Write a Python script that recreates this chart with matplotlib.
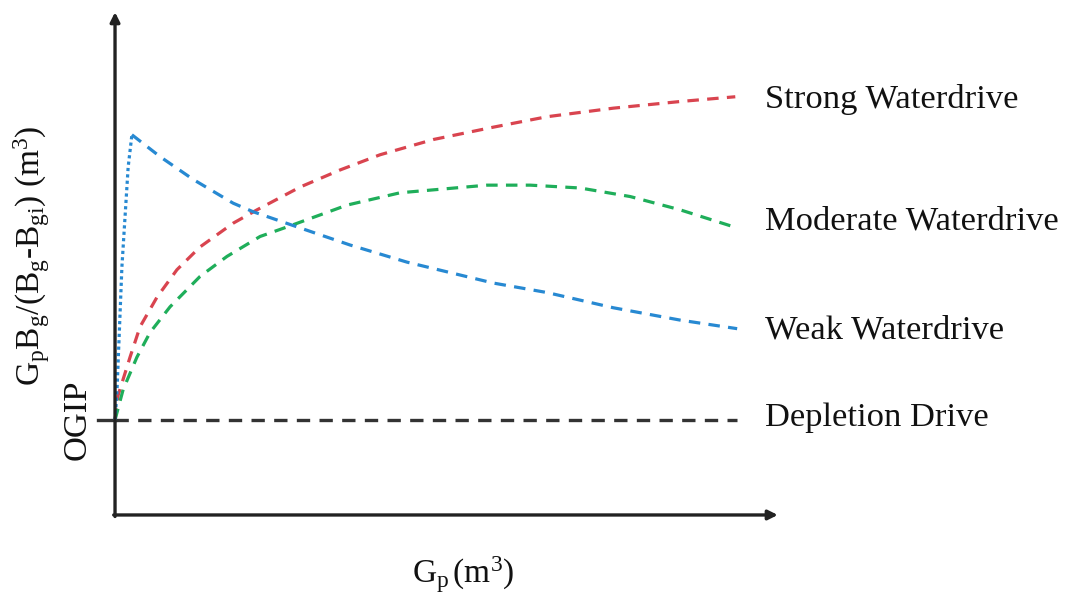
import matplotlib
matplotlib.use('Agg')
import matplotlib.pyplot as plt

plt.rcParams['font.family'] = ['Liberation Serif', 'DejaVu Serif']
plt.rcParams['mathtext.fontset'] = 'stix'

# Gp (arb. units) vs GpBg/(Bg-Bgi) (arb. units, OGIP = 1)
strong_x = [0, 0.05, 0.24, 0.40, 0.67, 0.99, 1.36, 1.89, 2.27, 2.96, 3.60, 4.24,
            5.09, 6.05, 6.91, 7.97, 9.04, 9.92]
strong_y = [1.0, 1.26, 1.66, 1.98, 2.29, 2.58, 2.82, 3.07, 3.21, 3.45, 3.63, 3.79,
            3.95, 4.08, 4.19, 4.28, 4.35, 4.40]

moderate_x = [0, 0.13, 0.35, 0.56, 0.88, 1.36, 1.79, 2.32, 2.75, 3.71, 4.56, 5.95,
              6.64, 7.44, 8.24, 9.04, 9.95]
moderate_y = [1.0, 1.32, 1.66, 1.92, 2.19, 2.51, 2.72, 2.93, 3.03, 3.26, 3.39, 3.47,
              3.47, 3.44, 3.35, 3.21, 3.02]

weak_rise_x = [0, 0.03, 0.11, 0.21, 0.27]
weak_rise_y = [1.0, 1.28, 2.61, 3.66, 4.0]
weak_x = [0.27, 0.72, 1.25, 1.89, 2.21, 2.96, 3.76, 4.67, 6.05, 6.91, 7.97, 9.04, 9.95]
weak_y = [4.0, 3.77, 3.53, 3.28, 3.19, 3.02, 2.84, 2.66, 2.44, 2.34, 2.18, 2.05, 1.96]

depletion_x = [0, 9.95]
depletion_y = [1.0, 1.0]

labels = ['Strong Waterdrive', 'Moderate Waterdrive', 'Weak Waterdrive', 'Depletion Drive']
label_y = [4.28, 3.0, 1.86, 0.94]

red, green, blue, dark = '#d9444f', '#1fae5a', '#2789d2', '#333333'

fig = plt.figure(figsize=(10.69, 6.08), dpi=100)
ax = fig.add_axes([0.1076, 0.153, 0.620, 0.827])
ax.set_xlim(0, 10.6)
ax.set_ylim(0, 5.29)
for s in ax.spines.values():
    s.set_visible(False)
ax.set_xticks([])
ax.set_yticks([])

# axes with arrow heads
ax.annotate('', xy=(0, 1), xytext=(0, -0.003), xycoords='axes fraction',
            arrowprops=dict(arrowstyle='-|>', lw=2.4, color='#222222', mutation_scale=14,
                            shrinkA=0, shrinkB=0))
ax.annotate('', xy=(1, 0), xytext=(-0.002, 0), xycoords='axes fraction',
            arrowprops=dict(arrowstyle='-|>', lw=2.4, color='#222222', mutation_scale=14,
                            shrinkA=0, shrinkB=0))

ax.plot(depletion_x, depletion_y, color=dark, lw=2.4, dashes=(4.0, 2.8), clip_on=False)
ax.plot([-0.27, 0], [1.0, 1.0], color=dark, lw=2.4, clip_on=False)
ax.plot(strong_x, strong_y, color=red, lw=2.3, dashes=(3.6, 2.6), clip_on=False)
ax.plot(moderate_x, moderate_y, color=green, lw=2.3, dashes=(3.6, 2.6), clip_on=False)
ax.plot(weak_rise_x, weak_rise_y, color=blue, lw=2.3, dashes=(1.0, 1.0), clip_on=False)
ax.plot(weak_x, weak_y, color=blue, lw=2.3, dashes=(3.6, 2.6), clip_on=False)

for lab, y in zip(labels, label_y):
    ax.text(10.4, y, lab, fontsize=24.8, va='baseline', ha='left', color='#111111',
            clip_on=False)

ax.text(-0.6, 1.0, 'OGIP', fontsize=24.8, rotation=90, ha='center', va='center',
        color='#111111')
fig.text(0.03, 0.58, r'$\mathregular{G_pB_g/(B_g}$-$\mathregular{B_{gi})\ (m^3)}$',
         fontsize=24, rotation=90, ha='center', va='center', color='#111111')
fig.text(0.433, 0.055, r'$\mathregular{G_p\,(m^3)}$', fontsize=24, ha='center',
         va='center', color='#111111')

fig.savefig('out.png', dpi=100)
